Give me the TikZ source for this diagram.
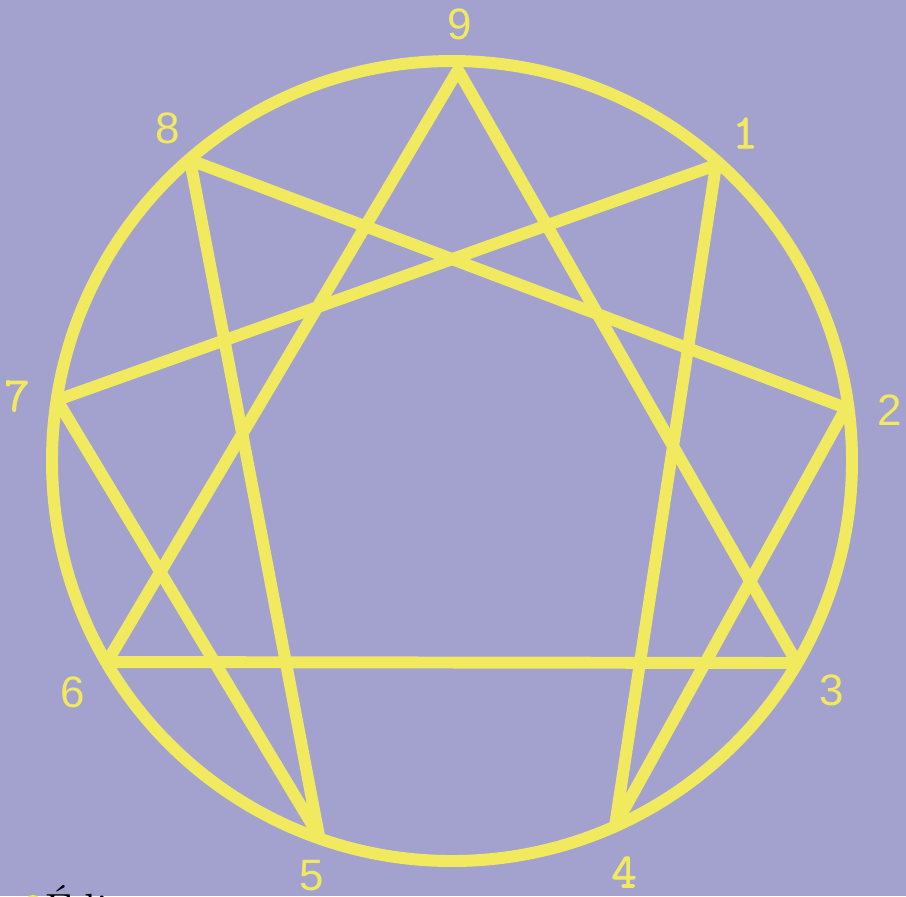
\documentclass[tikz,border=0pt]{standalone}
\usepackage{fontspec}
\setsansfont{Liberation Sans}
\newfontfamily\digitmono[FakeBold=1.6]{Latin Modern Mono}
\usepackage{xcolor}
\usetikzlibrary{positioning,calc}
\definecolor{lavender}{HTML}{A3A2CF}
\definecolor{lemon}{HTML}{F2EA5E}
\tikzstyle{ring} = [draw=lemon, line width=3.4pt]
\tikzstyle{figure} = [draw=lemon, line width=3.4pt, line join=round]

\begin{document}
\begin{tikzpicture}[
                x=0.1mm, y=-0.1mm,
                every node/.style={font=\fontsize{12}{14}\selectfont, text=lemon, inner sep=0pt},
                sanslab/.style={font=\fontsize{12.5}{14}\selectfont\sffamily},
                monolab/.style={font=\fontsize{14}{16}\selectfont\digitmono}
            ]
            \fill[lavender] (0,0) rectangle (906,896);
            \clip (0,0) rectangle (906,896);
            \useasboundingbox (0,0) rectangle (906,896);

            % Points on the circle
            \coordinate (p9) at (458,70);
            \coordinate (p1) at (716,165);
            \coordinate (p2) at (846,408);
            \coordinate (p3) at (797,663);
            \coordinate (p4) at (615,826);
            \coordinate (p5) at (319,836);
            \coordinate (p6) at (107,662);
            \coordinate (p7) at (57,400);
            \coordinate (p8) at (190,160);
            \coordinate (centre) at (452,461);

            % Circle and lines
            \draw[ring] (centre) circle (400);
            \draw[figure] (p9) -- (p3) -- (p6) -- cycle;
            \draw[figure] (p1) -- (p4) -- (p2) -- (p8) -- (p5) -- (p7) -- cycle;

            % Labels
            \node[sanslab] (lab9) at (460,24) {9};
            \node[monolab] (lab1) at (745,133) {1};
            \node[sanslab] (lab2) at (890,410) {2};
            \node[sanslab] (lab3) at (832,690) {3};
            \node[monolab] (lab4) at (624,872) {4};
            \node[sanslab] (lab5) at (312,876) {5};
            \node[sanslab] (lab6) at (73,692) {6};
            \node[monolab] (lab7) at (17,396) {7};
            \node[sanslab] (lab8) at (168,128) {8};

            % Caption (cut off at the bottom)
            \fill[lemon] (33,904) circle (9);
            \node[anchor=base west, text=black] (caption) at (45,923) {Édi};
\end{tikzpicture}
\end{document}
